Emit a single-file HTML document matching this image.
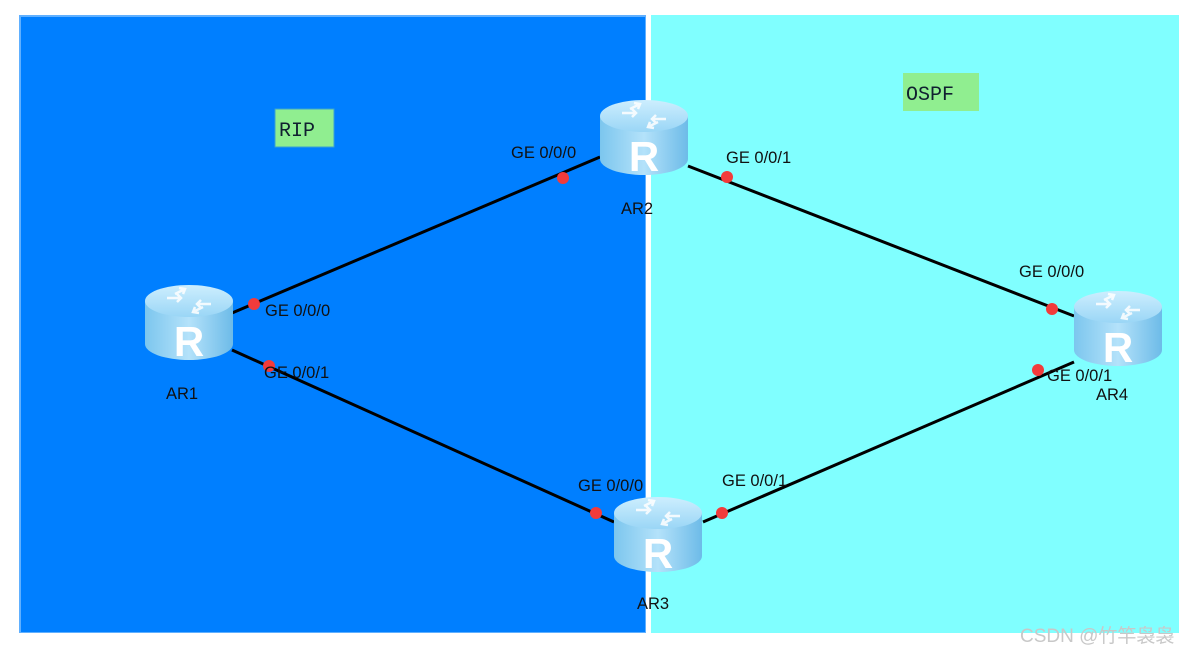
<!DOCTYPE html>
<html><head><meta charset="utf-8"><style>
html,body{margin:0;padding:0;background:#fff;}
svg{display:block;}
text{font-family:"Liberation Sans",sans-serif;}
.m{font-family:"Liberation Mono","DejaVu Sans Mono",monospace;font-size:20px;fill:#102030;}
.l{font-size:16.5px;fill:#111;}
</style></head><body>
<svg width="1199" height="654" viewBox="0 0 1199 654" xmlns="http://www.w3.org/2000/svg">
<defs>
<linearGradient id="body" x1="0" x2="1" y1="0" y2="0">
<stop offset="0" stop-color="#7cc6ee"/><stop offset="0.5" stop-color="#b4e2fa"/><stop offset="1" stop-color="#6dbbe8"/>
</linearGradient>
<linearGradient id="top" x1="0" x2="0" y1="0" y2="1">
<stop offset="0" stop-color="#cdeefe"/><stop offset="1" stop-color="#9ad6f6"/>
</linearGradient>
<g id="r">
<path d="M-44,-21 L-44,22 A44,16 0 0 0 44,22 L44,-21 Z" fill="url(#body)"/>
<ellipse cx="0" cy="-21" rx="44" ry="16" fill="url(#top)"/>
<g stroke="#fff" stroke-width="2.5" fill="none" opacity="0.85">
<path d="M-22,-24 L-8,-24 M-12,-28 L-8,-24 L-12,-20"/>
<path d="M22,-18 L8,-18 M12,-22 L8,-18 L12,-14"/>
<path d="M-4,-33 L-14,-28 M-10,-34 L-4,-33 L-6,-28"/>
<path d="M4,-10 L14,-15 M10,-9 L4,-10 L6,-15"/>
</g>
<text x="0" y="34" text-anchor="middle" font-size="42" font-weight="bold" fill="#fff" style="font-family:'Liberation Sans',sans-serif">R</text>
</g>
</defs>
<rect x="19" y="15" width="627" height="618" fill="#60b0ff"/>
<rect x="21" y="17" width="624" height="615" fill="#007fff"/>
<rect x="651" y="15" width="528" height="618" fill="#80ffff"/>
<rect x="275" y="109" width="59" height="38" fill="#90ee90" stroke="#3aa0d0" stroke-width="1"/>
<text x="279" y="136" class="m">RIP</text>
<rect x="903" y="73" width="76" height="38" fill="#90ee90"/>
<text x="906" y="100" class="m">OSPF</text>
<g stroke="#000" stroke-width="3">
<line x1="232" y1="313" x2="600" y2="157"/>
<line x1="232" y1="350" x2="614" y2="522"/>
<line x1="688" y1="166" x2="1074" y2="316"/>
<line x1="703" y1="522" x2="1074" y2="362"/>
</g>
<use href="#r" x="189" y="322"/>
<use href="#r" x="644" y="137"/>
<use href="#r" x="658" y="534"/>
<use href="#r" x="1118" y="328"/>
<g fill="#f23b3b">
<circle cx="254" cy="304" r="6"/><circle cx="563" cy="178" r="6"/>
<circle cx="727" cy="177" r="6"/><circle cx="1052" cy="309" r="6"/>
<circle cx="269" cy="366" r="6"/><circle cx="596" cy="513" r="6"/>
<circle cx="722" cy="513" r="6"/><circle cx="1038" cy="370" r="6"/>
</g>
<g class="l">
<text x="265" y="316" class="l">GE 0/0/0</text>
<text x="264" y="378" class="l">GE 0/0/1</text>
<text x="511" y="158" class="l">GE 0/0/0</text>
<text x="726" y="163" class="l">GE 0/0/1</text>
<text x="1019" y="277" class="l">GE 0/0/0</text>
<text x="1047" y="381" class="l">GE 0/0/1</text>
<text x="578" y="491" class="l">GE 0/0/0</text>
<text x="722" y="486" class="l">GE 0/0/1</text>
<text x="166" y="399" class="l">AR1</text>
<text x="621" y="214" class="l">AR2</text>
<text x="637" y="609" class="l">AR3</text>
<text x="1096" y="400" class="l">AR4</text>
</g>
<text x="1020" y="642" font-size="19" fill="#c8c8c8" style="font-family:'Liberation Sans','Noto Sans CJK SC',sans-serif">CSDN @竹竿袅袅</text>
</svg>
</body></html>
